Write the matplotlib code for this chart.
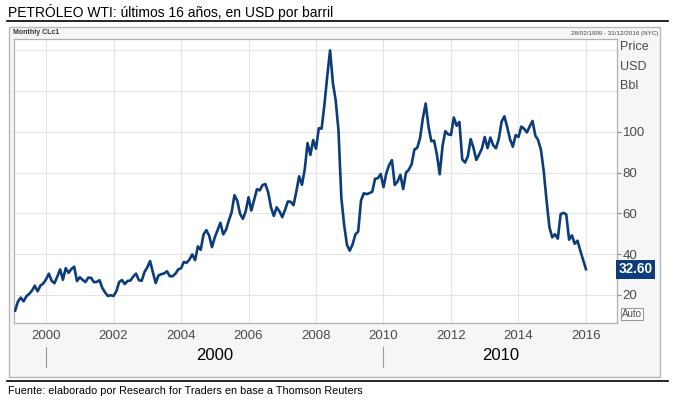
import matplotlib.pyplot as plt
from matplotlib.patches import Rectangle
from matplotlib.lines import Line2D
from matplotlib.transforms import blended_transform_factory
from matplotlib.ticker import FixedLocator

# monthly WTI closes (CLc1), Feb 1999 .. Jan 2016
start_year = 1999
start_month = 2
prices = [
    12.27, 16.76, 18.66, 16.84, 19.29, 20.53, 22.10, 24.51, 21.75, 24.59, 25.60,             # 1999
    27.64, 30.43, 26.90, 25.74, 29.01, 32.50, 27.43, 33.12, 30.84, 32.70, 33.82, 26.80,      # 2000
    28.66, 27.39, 26.29, 28.46, 28.37, 26.25, 26.35, 27.20, 23.43, 21.18, 19.44, 19.84,      # 2001
    19.48, 21.74, 26.31, 27.29, 25.31, 26.86, 27.02, 28.98, 30.45, 27.22, 26.89, 31.20,      # 2002
    33.51, 36.60, 31.04, 25.80, 29.56, 30.19, 30.54, 31.57, 29.20, 29.11, 30.41, 32.52,      # 2003
    33.05, 36.16, 35.76, 37.38, 39.88, 37.05, 43.80, 42.12, 49.64, 51.76, 49.13, 43.45,      # 2004
    48.20, 51.75, 55.40, 49.72, 51.97, 56.50, 60.57, 68.94, 66.24, 59.76, 57.32, 61.04,      # 2005
    67.92, 61.41, 66.63, 71.88, 71.29, 73.93, 74.40, 70.26, 62.91, 58.73, 62.97, 61.05,      # 2006
    58.14, 61.79, 65.87, 65.71, 64.01, 70.68, 78.21, 74.04, 81.66, 94.53, 88.71, 95.98,      # 2007
    91.75, 101.84, 101.58, 113.46, 127.35, 140.00, 124.08, 115.46, 100.64, 67.81, 54.43, 44.60,  # 2008
    41.68, 44.76, 49.66, 51.12, 66.31, 69.89, 69.45, 69.96, 70.61, 77.00, 77.28, 79.36,      # 2009
    72.89, 79.66, 83.76, 86.15, 73.97, 75.63, 78.95, 71.92, 79.97, 81.43, 84.11, 91.38,      # 2010
    92.19, 96.97, 106.72, 113.93, 102.70, 95.42, 95.70, 88.81, 79.20, 93.19, 100.36, 98.83,  # 2011
    98.48, 107.07, 103.02, 104.87, 86.53, 84.96, 88.06, 96.47, 92.19, 86.24, 88.91, 91.82,   # 2012
    97.49, 92.05, 97.23, 93.46, 91.97, 96.56, 105.03, 107.65, 102.33, 96.38, 92.72, 98.42,   # 2013
    97.49, 102.59, 101.58, 99.74, 102.71, 105.37, 98.17, 95.96, 91.16, 80.54, 66.15, 53.27,  # 2014
    48.24, 49.76, 47.60, 59.63, 60.30, 59.47, 47.12, 49.20, 45.09, 46.59, 41.65, 37.04,      # 2015
    32.60,                                                                                   # 2016
]
year_ticks = [2000, 2002, 2004, 2006, 2008, 2010, 2012, 2014, 2016]
price_ticks = [20, 40, 60, 80, 100]
extra_grid = [120, 140]
decades = [2000, 2010]

title = "PETRÓLEO WTI: últimos 16 años, en USD por barril"
source = "Fuente: elaborado por Research for Traders en base a Thomson Reuters"

dates = [start_year + (start_month - 1 + i) / 12 for i in range(len(prices))]

W, H = 674, 408
sans = ['Liberation Sans', 'DejaVu Sans']
line_blue = '#0c3c7a'
tick_gray = '#4a4a4a'


def fx(px):
    return px / W


def fy(py):
    return 1 - py / H


fig = plt.figure(figsize=(W / 100, H / 100), dpi=100)

# grey panel behind the chart
fig.patches.append(Rectangle((fx(9), fy(377)), fx(651), 350 / H, transform=fig.transFigure,
                             facecolor='#f6f6f6', edgecolor='#b8b8b8', linewidth=1, zorder=-5))

ax = fig.add_axes([fx(14), fy(323), fx(603), 284 / H])
ax.set_zorder(2)
ax.set_facecolor('white')
ax.plot(dates, prices, color=line_blue, linewidth=1.9, solid_joinstyle='round', zorder=3)

ax.set_xlim(1999.05, 2016.92)
ax.set_ylim(6.2, 145.6)

ax.set_xticks(year_ticks)
ax.set_xticklabels([str(y) for y in year_ticks], family=sans, fontsize=9.5, color=tick_gray)
ax.tick_params(axis='x', length=0, pad=5)

ax.yaxis.tick_right()
ax.set_yticks(price_ticks)
ax.set_yticklabels([str(v) for v in price_ticks], family=sans, fontsize=9.5, color=tick_gray)
ax.yaxis.set_minor_locator(FixedLocator(extra_grid))
ax.tick_params(axis='y', which='major', length=3, width=0.8, color='#888888', pad=1)
ax.tick_params(axis='y', which='minor', length=0)

ax.grid(True, which='both', color='#e4e4e4', linewidth=0.8)
ax.set_axisbelow(True)
for s in ax.spines.values():
    s.set_color('#b0b0b0')
    s.set_linewidth(0.9)

# last value flag on the price axis
yt = blended_transform_factory(ax.transAxes, ax.transData)
ax.text(1.003, prices[-1], f"{prices[-1]:.2f}", transform=yt, ha='left', va='center',
        family=sans, fontsize=9.8, fontweight='bold', color='white', zorder=5, clip_on=False,
        bbox=dict(boxstyle='square,pad=0.18', facecolor=line_blue, edgecolor='none'))

# axis unit labels
for txt, py in zip(["Price", "USD", "Bbl"], [47, 67, 86]):
    fig.text(fx(620), fy(py), txt, ha='left', va='center', family=sans, fontsize=9, color=tick_gray)
fig.text(fx(622), fy(314), "Auto", ha='left', va='center', family=sans, fontsize=7, color=tick_gray,
         bbox=dict(boxstyle='square,pad=0.15', facecolor='white', edgecolor='#999999', linewidth=0.8))

fig.text(fx(13), fy(33), "Monthly CLc1", ha='left', va='center', family=sans, fontsize=5,
         fontweight='bold', color='#333333')
fig.text(fx(658), fy(33), "28/02/1999 - 31/12/2016 (NYC)", ha='right', va='center', family=sans,
         fontsize=4.5, color='#444444')

# decade row under the year labels
xt = blended_transform_factory(ax.transData, fig.transFigure)
for d in decades:
    fig.lines.append(Line2D([d, d], [fy(347), fy(367)], transform=xt, color='#9a9a9a', linewidth=0.8))
right_span = [decades[1], 2016.92]
centers = [(decades[0] + decades[1]) / 2, sum(right_span) / 2]
for d, c in zip(decades, centers):
    fig.text(c, fy(356), str(d), transform=xt, ha='center', va='center', family=sans,
             fontsize=12, color='black')

# title, rules and source
fig.text(fx(8), fy(12), title, ha='left', va='center', family=sans, fontsize=10, color='black')
fig.lines.append(Line2D([fx(7), fx(668)], [fy(21), fy(21)], transform=fig.transFigure, color='black', linewidth=1.2))
fig.lines.append(Line2D([fx(7), fx(668)], [fy(381), fy(381)], transform=fig.transFigure, color='black', linewidth=1.2))
fig.text(fx(8), fy(391), source, ha='left', va='center', family=sans, fontsize=7.8, color='black')

fig.savefig('out.png', dpi=100, facecolor='white')
